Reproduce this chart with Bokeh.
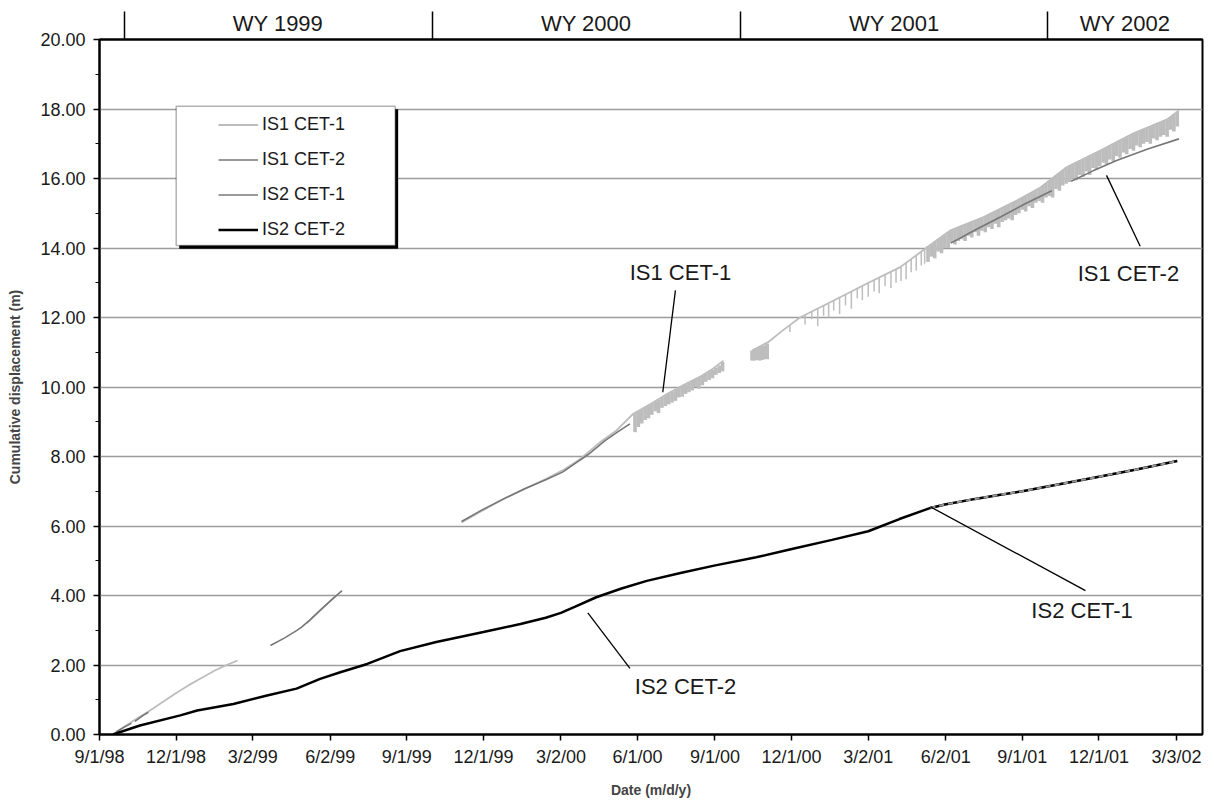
import numpy as np
import pandas as pd
from bokeh.plotting import figure
from bokeh.models import (Range1d, FixedTicker, LinearAxis, NumeralTickFormatter,
                          Legend, LegendItem, BoxAnnotation, Label)
from bokeh.embed import file_html
from bokeh.resources import INLINE

FONT = "Liberation Sans"
BASE = pd.Timestamp("1998-09-01")

# ---------------- axis labels ----------------
tick_labels = ["9/1/98", "12/1/98", "3/2/99", "6/2/99", "9/1/99", "12/1/99", "3/2/00",
               "6/1/00", "9/1/00", "12/1/00", "3/2/01", "6/2/01", "9/1/01", "12/1/01", "3/3/02"]
wy_labels = ["WY 1999", "WY 2000", "WY 2001", "WY 2002"]
wy_starts = ["1998-10-01", "1999-10-01", "2000-10-01", "2001-10-01"]
x_end_day = 1310
y_ticks = [0, 2, 4, 6, 8, 10, 12, 14, 16, 18, 20]

# ---------------- data (x = days since 9/1/1998, y = m) ----------------
NaN = float("nan")
# IS1 CET-1 (noisy upper series), NaN = data gap
is1_cet1_day = [16, 30, 45, 60, 76, 92, 106, 120, 137, 150, 164, NaN,
                246, 262, 280, NaN,
                430, 455, 480, 505, 530, 550, 571, 594, 614, 634, 654, 674, 693, 713, 727, 741, NaN,
                775, 794, 810, 832, 872, 911, 951, 983, 1010, 1050, 1090, 1118, 1149, 1188, 1228, 1268, 1282]
is1_cet1_val = [0.0, 0.24, 0.47, 0.69, 0.95, 1.21, 1.42, 1.61, 1.84, 1.99, 2.13, NaN,
                3.2, 3.57, 3.98, NaN,
                6.1, 6.45, 6.78, 7.07, 7.35, 7.6, 7.93, 8.4, 8.75, 9.23, 9.5, 9.8, 10.05, 10.29, 10.5, 10.76, NaN,
                11.05, 11.29, 11.6, 12.0, 12.49, 12.97, 13.45, 14.02, 14.5, 14.89, 15.37, 15.75, 16.33, 16.8, 17.3, 17.7, 17.96]
# IS1 CET-1 downward spikes: day, top, bottom
spike_day = [636, 640, 644, 648, 652, 656, 660, 664, 668, 672, 676, 680, 684, 688, 692, 696, 700, 704,
             708, 712, 716, 720, 724, 728, 732, 736, 740,
             775, 778, 781, 784, 787, 790, 793, 820,
             838, 846, 853, 860, 866, 872, 879, 886, 893, 900, 906, 913, 920, 926, 933, 940, 946, 952,
             958, 964, 970, 976, 980,
             984, 988, 992, 996, 1000, 1004, 1008, 1012, 1016, 1020, 1024, 1028, 1032, 1036, 1040, 1044,
             1048, 1052, 1056, 1060, 1064, 1068, 1072, 1076, 1080, 1084, 1088, 1092, 1096, 1100, 1104,
             1108, 1112, 1116, 1120, 1124, 1128, 1132, 1136, 1140, 1144, 1148, 1152, 1156, 1160, 1164,
             1168, 1172, 1176, 1180, 1184, 1188, 1192, 1196, 1200, 1204, 1208, 1212, 1216, 1220, 1224,
             1228, 1232, 1236, 1240, 1244, 1248, 1252, 1256, 1260, 1264, 1268, 1272, 1276, 1280]
spike_top = [9.25, 9.3, 9.36, 9.42, 9.47, 9.52, 9.58, 9.63, 9.7, 9.76, 9.82, 9.86, 9.92, 9.98, 10.03, 10.08,
             10.12, 10.18, 10.23, 10.28, 10.33, 10.4, 10.45, 10.5, 10.56, 10.62, 10.72,
             11.05, 11.1, 11.12, 11.15, 11.18, 11.2, 11.25, 11.78,
             12.07, 12.17, 12.26, 12.34, 12.41, 12.49, 12.58, 12.66, 12.75, 12.83, 12.91, 13.0, 13.08,
             13.15, 13.23, 13.32, 13.39, 13.47, 13.57, 13.68, 13.79, 13.9, 13.97,
             14.04, 14.11, 14.18, 14.25, 14.32, 14.39, 14.46, 14.52, 14.56, 14.6, 14.64, 14.68, 14.72,
             14.75, 14.79, 14.83, 14.87, 14.91, 14.96, 15.01, 15.06, 15.11, 15.15, 15.2, 15.25, 15.3,
             15.35, 15.4, 15.45, 15.5, 15.56, 15.61, 15.67, 15.72, 15.79, 15.86, 15.94, 16.01, 16.09,
             16.16, 16.24, 16.31, 16.37, 16.42, 16.46, 16.51, 16.56, 16.61, 16.66, 16.7, 16.75, 16.8,
             16.85, 16.9, 16.95, 17.0, 17.05, 17.1, 17.15, 17.2, 17.25, 17.3, 17.34, 17.38, 17.42, 17.46,
             17.5, 17.54, 17.58, 17.62, 17.66, 17.7, 17.77, 17.85, 17.92]
spike_low = [8.7, 8.85, 8.95, 9.05, 9.1, 9.2, 9.3, 9.25, 9.4, 9.45, 9.5, 9.55, 9.6, 9.7, 9.72, 9.8,
             9.85, 9.9, 10.0, 9.95, 10.05, 10.15, 10.2, 10.25, 10.35, 10.4, 10.45,
             10.76, 10.76, 10.78, 10.76, 10.78, 10.8, 10.8, 11.58,
             11.8, 11.95, 11.75, 12.05, 12.0, 12.2, 12.1, 12.35, 12.25, 12.55, 12.5, 12.6, 12.75, 12.7,
             12.9, 12.85, 13.0, 13.05, 13.1, 13.3, 13.35, 13.5, 13.55,
             13.6, 13.75, 13.7, 13.9, 13.85, 14.0, 14.0, 14.15, 14.1, 14.2, 14.25, 14.2, 14.35, 14.3,
             14.45, 14.35, 14.5, 14.45, 14.6, 14.55, 14.7, 14.6, 14.75, 14.8, 14.85, 14.8, 14.95, 15.0,
             15.1, 15.05, 15.2, 15.15, 15.3, 15.35, 15.3, 15.45, 15.5, 15.45, 15.7, 15.65, 15.8, 15.85,
             15.9, 16.0, 15.95, 16.1, 16.05, 16.2, 16.1, 16.3, 16.25, 16.35, 16.45, 16.4, 16.55, 16.5,
             16.65, 16.6, 16.75, 16.7, 16.85, 16.8, 16.95, 16.9, 17.0, 17.05, 17.0, 17.15, 17.1, 17.2,
             17.25, 17.2, 17.4, 17.35, 17.5]

# IS1 CET-2
is1_cet2_day = [20, 30, 38, NaN, 42, 52, 58, NaN,
                203, 220, 234, 240, 250, 262, 275, 288, NaN,
                430, 455, 480, 505, 530, 550, 565, 580, 600, 615, 630, NaN,
                1011, 1040, 1070, 1100, 1131, NaN,
                1154, 1180, 1208, 1245, 1282]
is1_cet2_val = [0.08, 0.22, 0.32, NaN, 0.38, 0.55, 0.64, NaN,
                2.56, 2.78, 2.99, 3.09, 3.3, 3.57, 3.86, 4.14, NaN,
                6.13, 6.47, 6.78, 7.07, 7.33, 7.55, 7.8, 8.05, 8.45, 8.7, 8.94, NaN,
                14.14, 14.52, 14.89, 15.28, 15.65, NaN,
                15.92, 16.22, 16.52, 16.85, 17.14]

# IS2 CET-2
is2_cet2_day = [16, 48, 96, 116, 159, 199, 234, 262, 286, 318, 357, 400, 456, 500, 530, 548, 565,
                590, 620, 650, 690, 730, 780, 821, 870, 913, 950, 987, 1004, 1040, 1070, 1096, 1140,
                1187, 1230, 1280]
is2_cet2_val = [0.0, 0.26, 0.55, 0.69, 0.88, 1.12, 1.32, 1.60, 1.79, 2.03, 2.40, 2.66, 2.95, 3.18,
                3.36, 3.5, 3.68, 3.95, 4.2, 4.42, 4.65, 4.86, 5.1, 5.33, 5.6, 5.85, 6.2, 6.52, 6.62,
                6.78, 6.9, 7.0, 7.2, 7.42, 7.62, 7.87]

# IS2 CET-1 (visible where it runs with IS2 CET-2 near the end)
is2_cet1_day = [987, 1004, 1040, 1070, 1096, 1140, 1187, 1230, 1280]
is2_cet1_val = [6.52, 6.62, 6.78, 6.9, 7.0, 7.2, 7.42, 7.62, 7.87]

# callout labels: text, label position, leader start, leader end (days, m)
callouts = [
    ("IS1 CET-1", 690, 13.29, 684, 12.78, 669, 9.85),
    ("IS1 CET-2", 1222, 13.26, 1236, 14.05, 1196, 16.09),
    ("IS2 CET-1", 1167, 3.57, 1171, 4.14, 987, 6.55),
    ("IS2 CET-2", 696, 1.38, 630, 1.9, 580, 3.5),
]

# ---------------- figure ----------------
tick_days = [int((pd.to_datetime(t, format="%m/%d/%y") - BASE).days) for t in tick_labels]
wy_bounds = [int((pd.Timestamp(d) - BASE).days) for d in wy_starts]
wy_edges = wy_bounds + [x_end_day]
wy_mids = [int(round((wy_edges[i] + wy_edges[i + 1]) / 2)) for i in range(4)]

p = figure(width=1214, height=805, output_backend="svg", toolbar_location=None,
           x_range=Range1d(0, x_end_day), y_range=Range1d(0, 20),
           min_border_left=99, min_border_right=12, min_border_top=39, min_border_bottom=71,
           x_axis_location=None, y_axis_location=None)
p.background_fill_color = "white"
p.border_fill_color = "white"
p.outline_line_color = "black"
p.outline_line_width = 2

# y axis
yax = LinearAxis(ticker=FixedTicker(ticks=y_ticks, minor_ticks=list(range(0, 21))),
                 formatter=NumeralTickFormatter(format="0.00"),
                 axis_label="Cumulative displacement (m)")
yax.axis_line_color = "black"
yax.axis_line_width = 2
yax.major_tick_out = 6
yax.major_tick_in = 0
yax.minor_tick_out = 4
yax.minor_tick_in = 0
yax.major_tick_line_width = 1.5
yax.major_label_text_font = FONT
yax.major_label_text_font_size = "18px"
yax.major_label_text_color = "#1a1a1a"
yax.major_label_standoff = 8
yax.axis_label_text_font = FONT
yax.axis_label_text_font_size = "14px"
yax.axis_label_text_font_style = "bold"
yax.axis_label_standoff = 14
p.add_layout(yax, "left")

# x axis
xax = LinearAxis(ticker=FixedTicker(ticks=tick_days, minor_ticks=[]),
                 major_label_overrides={d: t for d, t in zip(tick_days, tick_labels)},
                 axis_label="Date (m/d/y)")
xax.axis_line_color = "black"
xax.axis_line_width = 2
xax.major_tick_out = 6
xax.major_tick_in = 0
xax.major_tick_line_width = 1.5
xax.major_label_text_font = FONT
xax.major_label_text_font_size = "18px"
xax.major_label_text_color = "#1a1a1a"
xax.major_label_standoff = 6
xax.axis_label_text_font = FONT
xax.axis_label_text_font_size = "14px"
xax.axis_label_text_font_style = "bold"
xax.axis_label_standoff = 12
p.add_layout(xax, "below")

# water-year band on top
tax = LinearAxis(ticker=FixedTicker(ticks=wy_mids, minor_ticks=wy_bounds),
                 major_label_overrides={d: t for d, t in zip(wy_mids, wy_labels)})
tax.axis_line_color = "black"
tax.axis_line_width = 2
tax.major_tick_out = 0
tax.major_tick_in = 0
tax.minor_tick_out = 28
tax.minor_tick_in = 0
tax.minor_tick_line_color = "black"
tax.minor_tick_line_width = 1.5
tax.major_label_text_font = FONT
tax.major_label_text_font_size = "22px"
tax.major_label_text_color = "#1a1a1a"
tax.major_label_standoff = -24
p.add_layout(tax, "above")

p.ygrid.ticker = FixedTicker(ticks=y_ticks)
p.ygrid.grid_line_color = "#9c9c9c"
p.ygrid.grid_line_width = 1.5
p.xgrid.visible = False

# ---------------- series ----------------
spike_width = [1.5 if 800 <= d < 983 else 3.6 for d in spike_day]
r1 = p.line(is1_cet1_day, is1_cet1_val, line_color="#bdbdbd", line_width=1.8)
p.segment(x0=spike_day, y0=spike_top, x1=spike_day, y1=spike_low,
          line_color="#bdbdbd", line_width=spike_width)
r2 = p.line(is1_cet2_day, is1_cet2_val, line_color="#777777", line_width=1.6)
r3 = p.line(is2_cet1_day, is2_cet1_val, line_color="#9a9a9a", line_width=2)
r4 = p.line(is2_cet2_day, is2_cet2_val, line_color="black", line_width=2.5)
p.line(is2_cet1_day, is2_cet1_val, line_color="#9a9a9a", line_width=2, line_dash="5 4")

# ---------------- callouts ----------------
for txt, lx, ly, x0, y0, x1, y1 in callouts:
    p.add_layout(Label(x=lx, y=ly, text=txt, text_align="center", text_baseline="middle",
                       text_font=FONT, text_font_size="22px", text_color="#1a1a1a"))
p.segment(x0=[c[3] for c in callouts], y0=[c[4] for c in callouts],
          x1=[c[5] for c in callouts], y1=[c[6] for c in callouts],
          line_color="black", line_width=1.3)

# ---------------- legend box with shadow ----------------
p.add_layout(BoxAnnotation(left=94.7, right=354.7, top=17.99, bottom=13.98,
                           fill_color="black", fill_alpha=1, line_alpha=0))
p.add_layout(BoxAnnotation(left=91.1, right=351.2, top=18.08, bottom=14.07,
                           fill_color="white", fill_alpha=1, line_color="black", line_width=1.5))
legend = Legend(items=[LegendItem(label="IS1 CET-1", renderers=[r1]),
                       LegendItem(label="IS1 CET-2", renderers=[r2]),
                       LegendItem(label="IS2 CET-1", renderers=[r3]),
                       LegendItem(label="IS2 CET-2", renderers=[r4])],
                location=(119, 487), padding=0, spacing=0, margin=0,
                glyph_width=40, glyph_height=35, label_height=35, label_standoff=4,
                border_line_alpha=0, background_fill_alpha=0,
                label_text_font=FONT, label_text_font_size="18px", label_text_color="#1a1a1a")
p.add_layout(legend)

open("out.html", "w").write(file_html(p, INLINE))
